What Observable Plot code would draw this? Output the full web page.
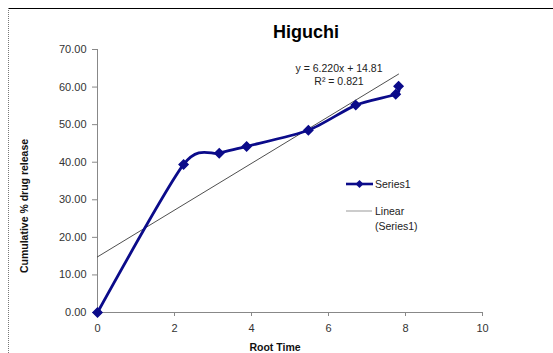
<!DOCTYPE html>
<html>
<head>
<meta charset="utf-8">
<script src="https://cdn.jsdelivr.net/npm/d3@7"></script>
<script src="https://cdn.jsdelivr.net/npm/@observablehq/plot@0.6"></script>
<style>
  html, body { margin: 0; padding: 0; background: #fff; }
  #chart { width: 553px; height: 353px; }
</style>
</head>
<body>
<div id="chart"></div>
<script>
const rootTime = [0, 2.236, 3.162, 3.873, 5.477, 6.708, 7.746, 7.82];
const release  = [0, 39.4, 42.4, 44.2, 48.5, 55.2, 58.1, 60.2];
const xTicks = [0, 2, 4, 6, 8, 10];
const yTicks = [0, 10, 20, 30, 40, 50, 60, 70];
const slope = 6.220;
const intercept = 14.81;
const rSquared = 0.821;
const title = "Higuchi";
const xLabel = "Root Time";
const yLabel = "Cumulative % drug release";
const seriesName = "Series1";

const data = rootTime.map((x, i) => ({x, y: release[i]}));
const xMin = d3.min(rootTime), xMax = d3.max(rootTime);
const trend = [xMin, xMax].map(x => ({x, y: slope * x + intercept}));

const navy = "#0b0b8a";
const font = "Liberation Sans, Arial, sans-serif";

const plot = Plot.plot({
  width: 553,
  height: 353,
  marginLeft: 97,
  marginRight: 71,
  marginTop: 49,
  marginBottom: 41,
  style: {fontFamily: font, fontSize: "11px", color: "#333", background: "#fff"},
  x: {domain: [0, 10], ticks: xTicks},
  y: {domain: [0, 70], ticks: yTicks},
  marks: [
    Plot.axisX({ticks: xTicks, tickSize: 4, tickPadding: 8, label: null, stroke: "#888", tickFormat: d3.format("d")}),
    Plot.axisY({ticks: yTicks, tickSize: 5, tickPadding: 6, label: null, stroke: "#888", tickFormat: d3.format(".2f")}),
    Plot.ruleY([0], {stroke: "#888"}),
    Plot.ruleX([0], {stroke: "#888"}),
    Plot.line(trend, {x: "x", y: "y", stroke: "#222", strokeWidth: 0.8}),
    Plot.line(data, {x: "x", y: "y", stroke: navy, strokeWidth: 2.8, curve: "cardinal", tension: 0.25}),
    Plot.dot(data, {x: "x", y: "y", symbol: d3.symbolDiamond2, r: 4, fill: navy, stroke: navy})
  ]
});

document.getElementById("chart").appendChild(plot);

const svg = d3.select(plot);
// outer chart border
svg.append("line").attr("x1", 8).attr("x2", 553).attr("y1", 8.5).attr("y2", 8.5)
  .attr("stroke", "#000").attr("stroke-width", 1.2);
svg.append("line").attr("x1", 8.5).attr("x2", 8.5).attr("y1", 8).attr("y2", 353)
  .attr("stroke", "#777").attr("stroke-width", 1).attr("stroke-dasharray", "1,1");

function addText(x, y, str, opts = {}) {
  return svg.append("text").attr("x", x).attr("y", y)
    .attr("text-anchor", opts.anchor || "middle")
    .attr("font-family", font)
    .attr("font-weight", opts.weight || "normal")
    .attr("font-size", opts.size || 10.5)
    .attr("fill", opts.fill || "#222")
    .text(str);
}

// title
addText(306, 38, title, {weight: "bold", size: 18, fill: "#000"});
// axis titles
addText(275, 351, xLabel, {weight: "bold", fill: "#111"});
addText(0, 0, yLabel, {weight: "bold", fill: "#111"}).attr("transform", "translate(28,206) rotate(-90)");
// trendline label
addText(339, 71.5, `y = ${slope.toFixed(3)}x + ${intercept.toFixed(2)}`);
addText(339, 85, `R² = ${rSquared.toFixed(3)}`);

// legend
svg.append("line").attr("x1", 346).attr("x2", 373).attr("y1", 184).attr("y2", 184)
  .attr("stroke", navy).attr("stroke-width", 2.6);
svg.append("path").attr("d", d3.symbol(d3.symbolDiamond2, 40)()).attr("transform", "translate(359.5,184)").attr("fill", navy);
addText(375, 188, seriesName, {anchor: "start"});
svg.append("line").attr("x1", 346).attr("x2", 372).attr("y1", 211).attr("y2", 211)
  .attr("stroke", "#999").attr("stroke-width", 1);
addText(375, 215, "Linear", {anchor: "start"});
addText(375, 230, `(${seriesName})`, {anchor: "start"});
</script>
</body>
</html>
